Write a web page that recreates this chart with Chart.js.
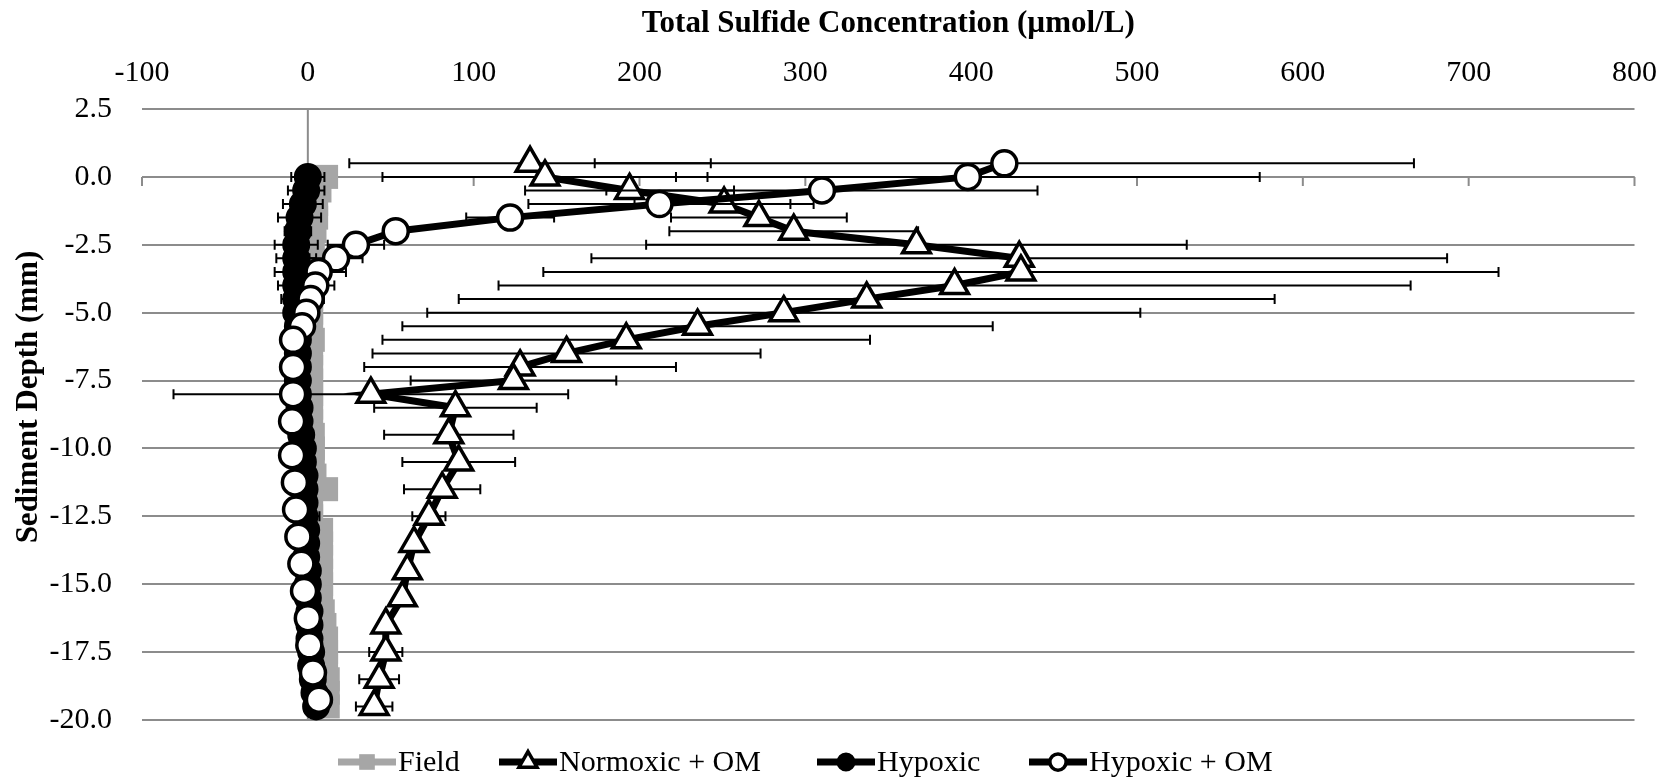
<!DOCTYPE html>
<html>
<head>
<meta charset="utf-8">
<title>Total Sulfide Concentration</title>
<script src="https://cdn.jsdelivr.net/npm/chart.js@4.4.1/dist/chart.umd.min.js"></script>
<style>
  html, body { margin: 0; padding: 0; background: #fff; }
  #wrap { width: 1675px; height: 781px; }
</style>
</head>
<body>
<div id="wrap"><canvas id="myChart"></canvas></div>
<script>
/* assen */
var xTicks = [-100, 0, 100, 200, 300, 400, 500, 600, 700, 800];
var yTicks = [2.5, 0, -2.5, -5, -7.5, -10, -12.5, -15, -17.5, -20];
var seriesNames = ['Field', 'Normoxic + OM', 'Hypoxic', 'Hypoxic + OM'];

/* Field */
var fieldDepth = [0, -0.5, -1, -1.5, -2, -2.5, -3, -3.5, -4, -4.5, -5, -5.5, -6, -6.5, -7, -7.5, -8, -8.5, -9, -9.5,
                  -10, -10.5, -11, -11.5, -12, -12.5, -13, -13.5, -14, -14.5, -15, -15.5, -16, -16.5, -17, -17.5, -18, -18.5, -19, -19.5];
var fieldConc = [11, 7, 5, 5, 4, 3, 2, 2, 2, 2, 2, 2, 3, 2, 2, 2, 2, 2, 2, 3,
                 3, 3, 4, 11, 2, 2, 8, 8, 8, 8, 8, 8, 9, 10, 11, 11, 11, 12, 12, 12];

/* Normoxic + OM */
var normDepth = [0.5, 0, -0.5, -1, -1.5, -2, -2.5, -3, -3.5, -4, -4.5, -5, -5.5, -6, -6.5, -7, -7.5, -8, -8.5,
                 -9.5, -10.5, -11.5, -12.5, -13.5, -14.5, -15.5, -16.5, -17.5, -18.5, -19.5];
var normConc = [134, 143, 194, 251, 272, 293, 367, 429, 430, 390, 337, 287, 235, 192, 156, 128, 124, 38, 89,
                85, 91, 81, 73, 64, 60, 57, 47, 47, 43, 40];
var normErr = [109, 98, 63, 54, 53, 75, 163, 258, 288, 275, 246, 215, 178, 147, 117, 94, 62, 119, 49,
               39, 34, 23, 10, 4, 4, 4, 4, 10, 12, 11];

/* Hypoxic */
var hypDepth = fieldDepth.slice();
var hypConc = [0, -1, -3, -5, -6, -7, -7, -7, -7, -7, -7, -6, -6, -6, -6, -6, -6, -5, -5, -4,
               -3, -3, -2, -2, -2, -2, -1, -1, -1, 0, 0, 0, 1, 1, 1, 2, 2, 3, 4, 5];
var hypErr = [10, 11, 12, 13, 8, 13, 12, 13, 11, 9, 7, 5, 4, 3, 3, 3, 3, 3, 3, 3,
              3, 3, 3, 3, 3, 9, 3, 3, 3, 3, 3, 3, 3, 3, 3, 3, 3, 3, 3, 3];

/* Hypoxic + OM */
var hypOmDepth = [0.5, 0, -0.5, -1, -1.5, -2, -2.5, -3, -3.5, -4, -4.5, -5, -5.5, -6, -7, -8, -9,
                  -10.25, -11.25, -12.25, -13.25, -14.25, -15.25, -16.25, -17.25, -18.25, -19.25];
var hypOmConc = [420, 398, 310, 212, 122, 53, 29, 17, 6.5, 4.5, 1.7, -0.9, -3.5, -8.9, -8.9, -8.9, -9.5,
                 -9.5, -7.8, -7.1, -5.7, -3.9, -2.3, 0, 0.9, 3.1, 6.7];
var hypOmErr = [247, 176, 130, 79, 26.5, 6, 17, 16, 16.5, 11.5, 8, 6, 4, 3, 3, 3, 3,
                3, 3, 3, 3, 3, 3, 3, 3, 3, 3];

function pts(xv, yv) {
    return xv.map(function (v, i) { return { x: v, y: yv[i] }; });
}

var gray = '#a6a6a6';
var font = 'Liberation Serif, Times New Roman, serif';

var datasets = [
    { label: seriesNames[0], data: pts(fieldConc, fieldDepth), order: 4,
      borderColor: gray, borderWidth: 7, backgroundColor: gray,
      pointStyle: 'rect', pointRadius: 17, pointBorderWidth: 0, pointBackgroundColor: gray },
    { label: seriesNames[1], data: pts(normConc, normDepth), errors: normErr, order: 3,
      borderColor: '#000', borderWidth: 7, backgroundColor: '#fff',
      pointStyle: 'triangle', pointRadius: 16, pointBorderWidth: 3.5, pointBackgroundColor: '#fff', pointBorderColor: '#000' },
    { label: seriesNames[2], data: pts(hypConc, hypDepth), errors: hypErr, order: 2,
      borderColor: '#000', borderWidth: 7, backgroundColor: '#000',
      pointStyle: 'circle', pointRadius: 13, pointBorderWidth: 2, pointBackgroundColor: '#000', pointBorderColor: '#000' },
    { label: seriesNames[3], data: pts(hypOmConc, hypOmDepth), errors: hypOmErr, order: 1,
      borderColor: '#000', borderWidth: 7, backgroundColor: '#fff',
      pointStyle: 'circle', pointRadius: 12.5, pointBorderWidth: 3.5, pointBackgroundColor: '#fff', pointBorderColor: '#000' }
];

/* extra tekenwerk: assen door 0, foutbalken, titels en legenda */
var extras = {
    id: 'extras',
    beforeDatasetsDraw: function (chart) {
        var ctx = chart.ctx, xs = chart.scales.x, ys = chart.scales.y;
        var x0 = xs.getPixelForValue(0), y0 = ys.getPixelForValue(0);
        ctx.save();
        ctx.strokeStyle = '#8c8c8c';
        ctx.lineWidth = 2;
        ctx.beginPath();
        ctx.moveTo(x0, ys.top);
        ctx.lineTo(x0, ys.bottom);
        ctx.moveTo(xs.left, y0);
        ctx.lineTo(xs.right, y0);
        xTicks.forEach(function (v) {
            var px = xs.getPixelForValue(v);
            ctx.moveTo(px, y0);
            ctx.lineTo(px, y0 + 9);
        });
        ctx.stroke();
        ctx.restore();
    },
    beforeDatasetDraw: function (chart, args) {
        var ds = chart.data.datasets[args.index];
        if (!ds.errors) return;
        var ctx = chart.ctx, xs = chart.scales.x, ys = chart.scales.y;
        ctx.save();
        ctx.strokeStyle = '#000';
        ctx.lineWidth = 2;
        ds.data.forEach(function (p, i) {
            var e = ds.errors[i];
            var y = ys.getPixelForValue(p.y);
            var xl = xs.getPixelForValue(p.x - e), xr = xs.getPixelForValue(p.x + e);
            ctx.beginPath();
            ctx.moveTo(xl, y); ctx.lineTo(xr, y);
            ctx.moveTo(xl, y - 5); ctx.lineTo(xl, y + 5);
            ctx.moveTo(xr, y - 5); ctx.lineTo(xr, y + 5);
            ctx.stroke();
        });
        ctx.restore();
    },
    afterDraw: function (chart) {
        var ctx = chart.ctx, xs = chart.scales.x;
        ctx.save();
        ctx.fillStyle = '#000';
        ctx.font = 'bold 31px ' + font;
        ctx.textAlign = 'center';
        ctx.textBaseline = 'middle';
        ctx.fillText('Total Sulfide Concentration (\u00b5mol/L)', (xs.left + xs.right) / 2, 24);
        ctx.save();
        ctx.translate(29, 397);
        ctx.rotate(-Math.PI / 2);
        ctx.fillText('Sediment Depth (mm)', 0, 0);
        ctx.restore();

        /* legenda */
        var lineX = [338, 499, 817, 1029];
        var ly = 762;
        ctx.font = '30px ' + font;
        ctx.textAlign = 'left';
        chart.data.datasets.forEach(function (ds, i) {
            var x1 = lineX[i], x2 = x1 + 58;
            ctx.strokeStyle = ds.borderColor;
            ctx.lineWidth = ds.borderWidth;
            ctx.beginPath();
            ctx.moveTo(x1, ly); ctx.lineTo(x2, ly);
            ctx.stroke();
            ctx.fillStyle = ds.pointBackgroundColor;
            ctx.strokeStyle = ds.pointBorderColor || ds.borderColor;
            ctx.lineWidth = ds.pointBorderWidth;
            Chart.helpers.drawPoint(ctx, {
                pointStyle: ds.pointStyle,
                radius: ds.pointRadius * 0.65,
                rotation: 0,
                borderWidth: ds.pointBorderWidth
            }, (x1 + x2) / 2, ly);
            ctx.fillStyle = '#000';
            ctx.fillText(ds.label, x2 + 2, ly + 1);
        });
        ctx.restore();
    }
};

Chart.defaults.font.family = font;
Chart.defaults.color = '#000';

var ctx = document.getElementById('myChart');

var myChart = new Chart(ctx, {
    type: 'scatter',
    data: { datasets: datasets },
    options: {
        responsive: true,
        maintainAspectRatio: false,
        animation: false,
        showLine: true,
        clip: false,
        layout: { padding: { left: 0, top: 0, right: 39, bottom: 61 } },
        elements: { line: { tension: 0 } },
        plugins: {
            legend: { display: false },
            tooltip: { enabled: false }
        },
        scales: {
            x: {
                type: 'linear',
                position: 'top',
                min: -100,
                max: 800,
                afterBuildTicks: function (s) { s.ticks = xTicks.map(function (v) { return { value: v }; }); },
                afterFit: function (s) { s.height = 109; },
                grid: { display: false, drawTicks: false },
                border: { display: false },
                ticks: { font: { size: 30 }, padding: 18, autoSkip: false, maxRotation: 0 }
            },
            y: {
                type: 'linear',
                min: -20,
                max: 2.5,
                afterBuildTicks: function (s) { s.ticks = yTicks.map(function (v) { return { value: v }; }); },
                afterFit: function (s) { s.width = 142; },
                grid: { color: '#8c8c8c', lineWidth: 2, drawTicks: false },
                border: { display: false },
                ticks: {
                    font: { size: 30 },
                    padding: 30,
                    autoSkip: false,
                    callback: function (v) { return Number(v).toFixed(1); }
                }
            }
        }
    },
    plugins: [extras]
});
</script>
</body>
</html>
